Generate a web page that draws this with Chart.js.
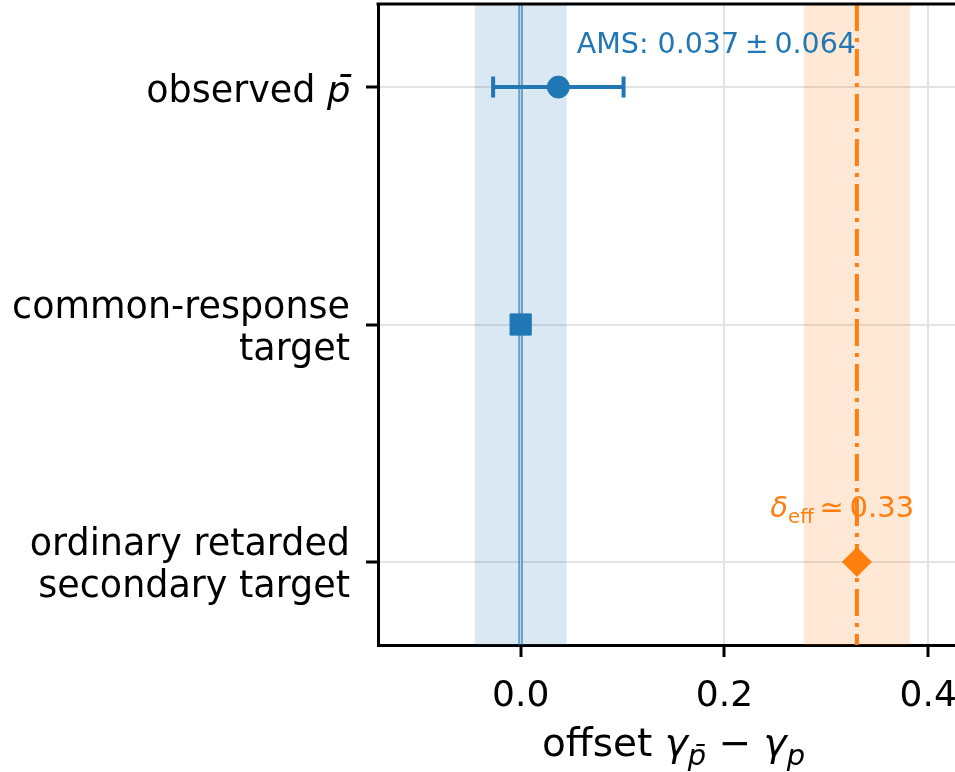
<!DOCTYPE html>
<html>
<head>
<meta charset="utf-8">
<script src="https://cdn.jsdelivr.net/npm/chart.js@4/dist/chart.umd.min.js"></script>
<style>
    html, body { margin: 0; padding: 0; background: #fff; overflow: hidden; }
    #wrap { position: relative; width: 969px; height: 772px; }
</style>
</head>
<body>
<div id="wrap"><canvas id="myChart" width="969" height="772"></canvas></div>
<script>
// rows, top to bottom
const rowLabels = [['observed \u{1D631}\u0304'], ['common-response', 'target'], ['ordinary retarded', 'secondary target']]
const rowPos = [0, 1, 2]

// offsets per row
const observedOffset = [0.037]
const observedErr = [0.064]
const commonOffset = [0.0]
const secondaryOffset = [0.33]

// shaded ranges and reference lines
const commonBand = [-0.045, 0.045]
const secondaryBand = [0.278, 0.382]
const zeroLine = 0.0
const deltaEff = 0.33

const xTicks = [0.0, 0.2, 0.4]
const xRange = [-0.14, 0.44]
const yRange = [-0.35, 2.35]

// text anchors (data units)
const amsAnchor = [0.055, -0.145]
const deltaAnchor = [0.245, 1.81]

const blue = '#1f77b4'
const orange = '#ff7f0e'
const FONT = 'DejaVu Sans'

// draws a run of text pieces: [text, italic, sub]
let drawRich = (ctx, parts, x, y, size, align, subScale) => {
    let k = subScale || 0.7
    let pieces = parts.map(p => {
        let s = p[2] ? size * k : size
        let f = (p[1] ? 'italic ' : '') + s + 'px "' + FONT + '"'
        ctx.font = f
        return {t: p[0], f: f, w: ctx.measureText(p[0]).width, dy: p[2] ? size * 0.22 : 0}
    })
    let total = pieces.reduce((a, p) => a + p.w, 0)
    let cx = align === 'center' ? x - total / 2 : x
    ctx.textAlign = 'left'
    ctx.textBaseline = 'alphabetic'
    for (let p of pieces) {
        ctx.font = p.f
        ctx.fillText(p.t, cx, y + p.dy)
        cx += p.w
    }
}

const decor = {
    id: 'decor',
    beforeDatasetsDraw(chart) {
        const {ctx, chartArea: a, scales: {x, y}} = chart
        ctx.save()
        ctx.beginPath()
        ctx.rect(a.left, a.top, a.right - a.left, a.bottom - a.top)
        ctx.clip()

        // shaded bands
        ctx.fillStyle = 'rgba(31,119,180,0.17)'
        ctx.fillRect(x.getPixelForValue(commonBand[0]), a.top,
            x.getPixelForValue(commonBand[1]) - x.getPixelForValue(commonBand[0]), a.bottom - a.top)
        ctx.fillStyle = 'rgba(255,127,14,0.17)'
        ctx.fillRect(x.getPixelForValue(secondaryBand[0]), a.top,
            x.getPixelForValue(secondaryBand[1]) - x.getPixelForValue(secondaryBand[0]), a.bottom - a.top)

        // double hairline at zero
        let zx = x.getPixelForValue(zeroLine)
        ctx.strokeStyle = blue
        ctx.lineWidth = 1.1
        ctx.beginPath()
        ctx.moveTo(zx - 1.6, a.top)
        ctx.lineTo(zx - 1.6, a.bottom)
        ctx.moveTo(zx + 1.4, a.top)
        ctx.lineTo(zx + 1.4, a.bottom)
        ctx.stroke()

        // dash-dot line at delta_eff
        let dx = x.getPixelForValue(deltaEff)
        ctx.strokeStyle = orange
        ctx.lineWidth = 4
        ctx.setLineDash([27, 7, 4, 7])
        ctx.beginPath()
        ctx.moveTo(dx, a.top)
        ctx.lineTo(dx, a.bottom)
        ctx.stroke()
        ctx.setLineDash([])

        // error bar on the observed point
        let py = y.getPixelForValue(rowPos[0])
        let x0 = x.getPixelForValue(observedOffset[0] - observedErr[0])
        let x1 = x.getPixelForValue(observedOffset[0] + observedErr[0])
        ctx.strokeStyle = blue
        ctx.lineWidth = 4
        ctx.beginPath()
        ctx.moveTo(x0, py)
        ctx.lineTo(x1, py)
        ctx.moveTo(x0, py - 10.5)
        ctx.lineTo(x0, py + 10.5)
        ctx.moveTo(x1, py - 10.5)
        ctx.lineTo(x1, py + 10.5)
        ctx.stroke()
        ctx.restore()
    },
    afterDatasetsDraw(chart) {
        const {ctx, scales: {x, y}} = chart
        ctx.save()
        ctx.fillStyle = blue
        drawRich(ctx, [['AMS: 0.037\u2009\u00B1\u20090.064', false, false]],
            x.getPixelForValue(amsAnchor[0]), y.getPixelForValue(amsAnchor[1]), 28.5, 'left')
        ctx.fillStyle = orange
        drawRich(ctx, [['\u03B4', true, false], ['eff', false, true], ['\u2009\u2243\u20090.33', false, false]],
            x.getPixelForValue(deltaAnchor[0]), y.getPixelForValue(deltaAnchor[1]), 29, 'left', 0.68)
        ctx.restore()
    },
    afterDraw(chart) {
        const {ctx, chartArea: a} = chart
        ctx.save()
        // top spine
        ctx.strokeStyle = '#000'
        ctx.lineWidth = 3
        ctx.beginPath()
        ctx.moveTo(a.left - 1.5, a.top)
        ctx.lineTo(a.right, a.top)
        ctx.stroke()
        // x axis title
        ctx.fillStyle = '#000'
        drawRich(ctx, [['offset ', false, false], ['\u03B3', true, false], ['p\u0304', true, true],
            [' \u2212 ', false, false], ['\u03B3', true, false], ['p', true, true]],
            (a.left + a.right) / 2, 756, 39, 'center', 0.74)
        ctx.restore()
    }
}

const data = {
    datasets: [{
        label: 'observed',
        data: observedOffset.map(v => ({x: v, y: rowPos[0]})),
        pointStyle: 'circle',
        pointRadius: 11,
        backgroundColor: blue,
        borderColor: blue
    }, {
        label: 'common-response',
        data: commonOffset.map(v => ({x: v, y: rowPos[1]})),
        pointStyle: 'rect',
        pointRadius: 15,
        backgroundColor: blue,
        borderColor: blue,
        borderWidth: 1
    }, {
        label: 'secondary',
        data: secondaryOffset.map(v => ({x: v, y: rowPos[2]})),
        pointStyle: 'rectRot',
        pointRadius: 14.5,
        backgroundColor: orange,
        borderColor: orange,
        borderWidth: 1
    }]
}

const config = {
    type: 'scatter',
    data,
    options: {
        responsive: false,
        animation: false,
        layout: {autoPadding: false, padding: {top: 4, left: 0, right: 0, bottom: 0}},
        plugins: {legend: {display: false}, tooltip: {enabled: false}},
        scales: {
            x: {
                type: 'linear',
                min: xRange[0],
                max: xRange[1],
                afterBuildTicks: s => { s.ticks = xTicks.map(v => ({value: v})) },
                afterFit: s => { s.height = 127; s.paddingLeft = 0; s.paddingRight = 0 },
                ticks: {
                    font: {family: FONT, size: 36},
                    color: '#000',
                    padding: 18,
                    maxRotation: 0,
                    autoSkip: false,
                    callback: v => v.toFixed(1)
                },
                grid: {color: '#e3e3e3', lineWidth: 2, tickColor: '#000', tickLength: 12, tickWidth: 3},
                border: {color: '#000', width: 3}
            },
            y: {
                type: 'linear',
                reverse: true,
                min: yRange[0],
                max: yRange[1],
                afterBuildTicks: s => { s.ticks = rowPos.map(v => ({value: v})) },
                afterFit: s => { s.width = 378; s.paddingTop = 0; s.paddingBottom = 0 },
                ticks: {
                    font: {family: FONT, size: 36.5, lineHeight: 1.15},
                    color: '#000',
                    padding: 16,
                    labelOffset: 5,
                    autoSkip: false,
                    callback: v => rowLabels[v]
                },
                grid: {color: '#e3e3e3', lineWidth: 2, tickColor: '#000', tickLength: 12, tickWidth: 3},
                border: {color: '#000', width: 3}
            }
        }
    },
    plugins: [decor]
}

const myChart = new Chart(document.getElementById('myChart'), config)
</script>
</body>
</html>
